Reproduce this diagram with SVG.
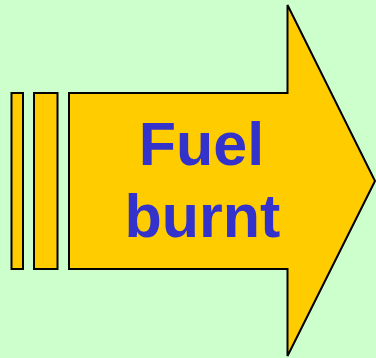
<svg xmlns="http://www.w3.org/2000/svg" width="376" height="358" viewBox="0 0 376 358">
<style>
.s{fill:#ffcc00;stroke:#000;stroke-width:2;stroke-linejoin:miter}
.t{font-family:"Liberation Sans",Arial,sans-serif;font-weight:bold;font-size:61px;fill:#3333cc;text-anchor:middle}
</style>
<rect width="376" height="358" fill="#ccffcc"/>
<g id="arrow">
<rect class="s" x="11.5" y="93" width="11.5" height="176"/>
<rect class="s" x="34" y="93" width="23.5" height="176"/>
<path class="s" d="M69,93 H287.5 V5 L375,181 L287.5,356 V269 H69 Z"/>
<text class="t" x="201.5" y="165">Fuel</text>
<text class="t" x="202.5" y="237">burnt</text>
</g>
</svg>
